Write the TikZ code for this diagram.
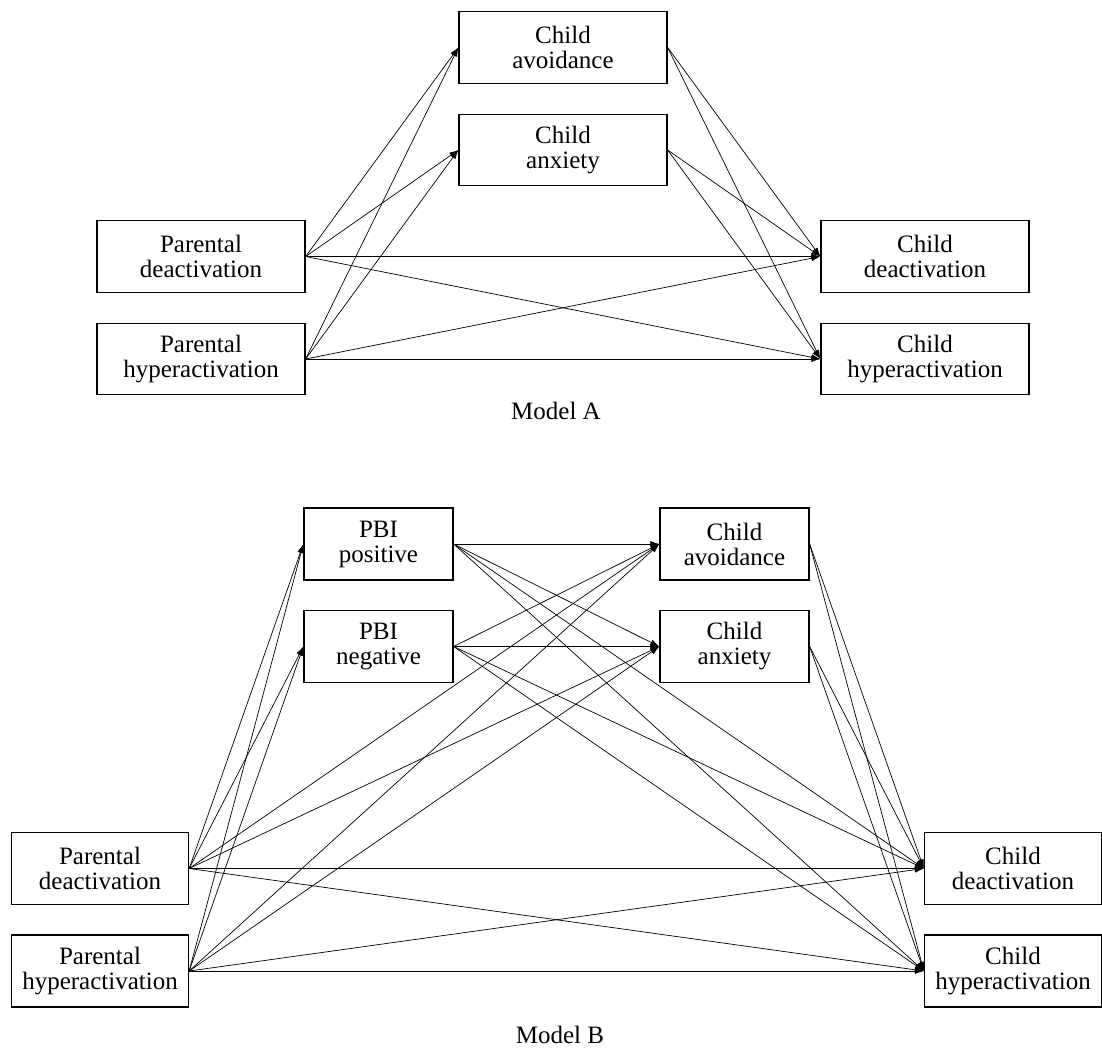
\documentclass[tikz,border=0pt]{standalone}
\usepackage{fontspec}
\setmainfont{Liberation Serif}
\usetikzlibrary{arrows.meta}
\begin{document}
\begin{tikzpicture}[x=1pt,y=-1pt,
  box/.style={draw, line width=1.3pt, inner sep=0pt, align=center,
              font=\fontsize{25}{25}\selectfont},
  boxA/.style={box, minimum width=208pt, minimum height=71.5pt},
  boxmid/.style={box, minimum width=149pt, minimum height=72pt},
  boxend/.style={box, minimum width=177pt, minimum height=72pt},
  link/.style={-{Latex[length=9pt,width=6pt]}, line width=0.7pt},
  modellabel/.style={anchor=base, inner sep=0pt, font=\fontsize{25}{25}\selectfont}]
\useasboundingbox (0,0) rectangle (1102,1050);

% ---------------- Model A ----------------
\node[boxA] (avoidA) at (563,47.5) {Child\\avoidance};
\node[boxA] (anxA)   at (563,150)  {Child\\anxiety};
\node[boxA] (pdA)    at (201,256.5) {Parental\\deactivation};
\node[boxA] (phA)    at (201,359)  {Parental\\hyperactivation};
\node[boxA] (cdA)    at (925,256.5) {Child\\deactivation};
\node[boxA] (chA)    at (925,359)  {Child\\hyperactivation};
\node[modellabel] (labA) at (556,419) {Model A};

\foreach \s in {pdA,phA}
  \foreach \t in {avoidA,anxA,cdA,chA}
    \draw[link] (\s.east) -- (\t.west);
\foreach \s in {avoidA,anxA}
  \foreach \t in {cdA,chA}
    \draw[link] (\s.east) -- (\t.west);

% ---------------- Model B ----------------
\node[boxmid] (pbipos) at (378.5,544)  {PBI\\positive};
\node[boxmid] (pbineg) at (378.5,646.5) {PBI\\negative};
\node[boxmid] (avoidB) at (734.5,544)  {Child\\avoidance};
\node[boxmid] (anxB)   at (734.5,646.5) {Child\\anxiety};
\node[boxend] (pdB)    at (100,868.5)  {Parental\\deactivation};
\node[boxend] (phB)    at (100,971)    {Parental\\hyperactivation};
\node[boxend] (cdB)    at (1013,868.5) {Child\\deactivation};
\node[boxend] (chB)    at (1013,971)   {Child\\hyperactivation};
\node[modellabel] (labB) at (560,1043) {Model B};

\foreach \s in {pdB,phB}
  \foreach \t in {pbipos,pbineg,avoidB,anxB,cdB,chB}
    \draw[link] (\s.east) -- (\t.west);
\foreach \s in {pbipos,pbineg}
  \foreach \t in {avoidB,anxB,cdB,chB}
    \draw[link] (\s.east) -- (\t.west);
\foreach \s in {avoidB,anxB}
  \foreach \t in {cdB,chB}
    \draw[link] (\s.east) -- (\t.west);
\end{tikzpicture}
\end{document}
